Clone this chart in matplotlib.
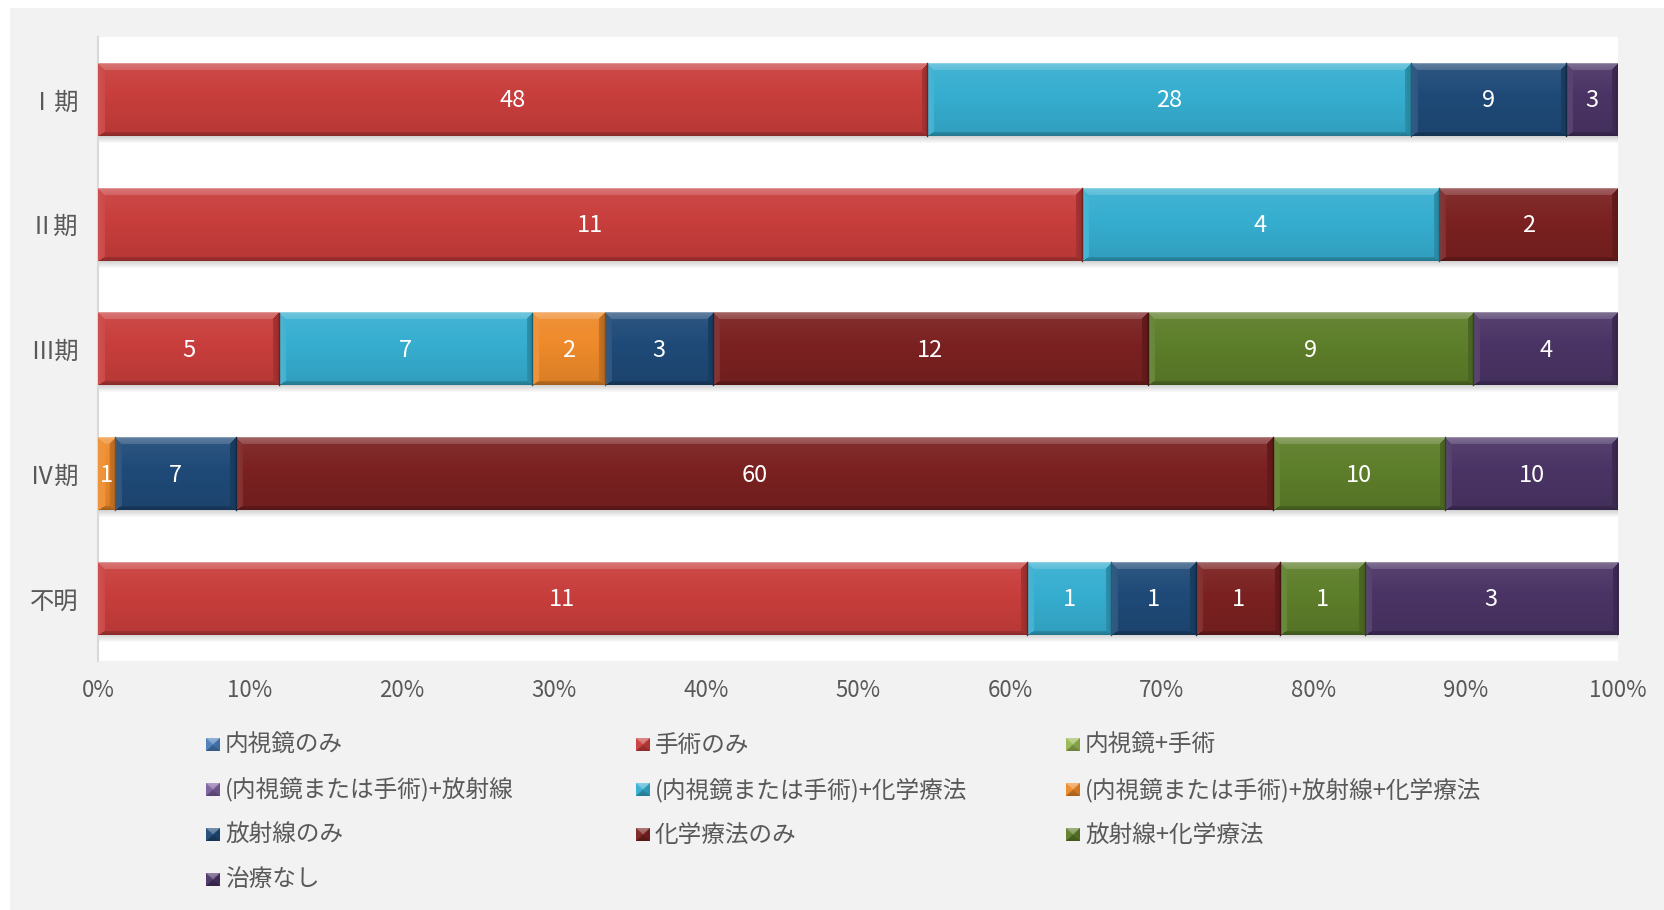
import numpy as np
import matplotlib
matplotlib.use("Agg")
import matplotlib.pyplot as plt
from matplotlib.colors import to_rgb

plt.rcParams['font.family'] = ['Noto Sans CJK JP', 'DejaVu Sans']

# ---- data -------------------------------------------------------------
stages = ['Ⅰ期', 'Ⅱ期', 'Ⅲ期', 'Ⅳ期', '不明']

treatments = [
    '内視鏡のみ', '手術のみ', '内視鏡+手術',
    '(内視鏡または手術)+放射線', '(内視鏡または手術)+化学療法',
    '(内視鏡または手術)+放射線+化学療法',
    '放射線のみ', '化学療法のみ', '放射線+化学療法', '治療なし',
]

endoscopy_only   = [0, 0, 0, 0, 0]
surgery_only     = [48, 11, 5, 0, 11]
endo_surgery     = [0, 0, 0, 0, 0]
local_rad        = [0, 0, 0, 0, 0]
local_chemo      = [28, 4, 7, 0, 1]
local_rad_chemo  = [0, 0, 2, 1, 0]
radiation_only   = [9, 0, 3, 7, 1]
chemo_only       = [0, 2, 12, 60, 1]
rad_chemo        = [0, 0, 9, 10, 1]
no_treatment     = [3, 0, 4, 10, 3]

series = [endoscopy_only, surgery_only, endo_surgery, local_rad, local_chemo,
          local_rad_chemo, radiation_only, chemo_only, rad_chemo, no_treatment]

colors = ['#4A7EBB', '#C83E3C', '#98B954', '#7D60A0', '#36AED0',
          '#EE8A2A', '#1F4A78', '#7B2121', '#5D7E2A', '#4A3465']

x_ticks = [0, 10, 20, 30, 40, 50, 60, 70, 80, 90, 100]

# ---- figure -----------------------------------------------------------
W, H, DPI = 1665, 910, 100
fig = plt.figure(figsize=(W / DPI, H / DPI), dpi=DPI, facecolor='white')

bg = fig.add_axes([0, 0, 1, 1], zorder=-1)
bg.set_xlim(0, W)
bg.set_ylim(H, 0)
bg.axis('off')
bg.add_patch(plt.Rectangle((10, 8), W - 10, H - 8, facecolor='#F2F2F2',
                           edgecolor='none', zorder=0))

ax_l, ax_t, ax_r, ax_b = 98, 37, 1618, 661
ax = fig.add_axes([ax_l / W, 1 - ax_b / H, (ax_r - ax_l) / W, (ax_b - ax_t) / H])
ax.set_facecolor('white')

n = len(stages)
ax.set_xlim(0, 100)
ax.set_ylim(n - 0.5, -0.5)
bar_h = 0.584

px_x = (ax_r - ax_l) / 100.0
px_y = (ax_b - ax_t) / n


def shade_rgb(base, s):
    base = np.asarray(base)[None, None, :]
    s = s[..., None]
    return np.where(s > 0, base + s * (1 - base), base * (1 + s))


def bevel_image(color, w_px, h_px, bt=7, bb=4, bl=7, br=6, pyramid=False):
    w = max(int(round(w_px)), 2)
    h = max(int(round(h_px)), 2)
    i = (np.arange(h)[:, None] + 0.5) * np.ones((1, w))
    j = (np.arange(w)[None, :] + 0.5) * np.ones((h, 1))
    dt, db, dl, dr = i, h - i, j, w - j
    widths = np.array([bt, bb, bl, br], dtype=float)
    if pyramid:
        widths = np.array([h / 2, h / 2, w / 2, w / 2])
    norm = np.stack([dt / widths[0], db / widths[1], dl / widths[2], dr / widths[3]])
    idx = np.argmin(norm, axis=0)
    dmin = np.min(norm, axis=0)
    t = i / h
    body = 0.07 - 0.16 * t
    edge_vals = np.array([0.30, -0.32, 0.10, -0.25])
    if pyramid:
        edge_vals = np.array([0.40, -0.30, 0.05, -0.15])
    edge = edge_vals[idx] * (1 - 0.35 * dmin)
    s = np.where(dmin < 1, edge, body)
    if not pyramid:
        # bright rim along the top
        s = np.where((dt < 1.5) & (idx == 0), 0.45, s)
    return shade_rgb(to_rgb(color), s)


totals = np.sum(np.array(series), axis=0)
left = np.zeros(n)

# soft shadow under each bar
for k in range(n):
    sh_h = 9
    a = np.linspace(0.35, 0.0, sh_h)
    img = np.zeros((sh_h, 4, 4))
    img[..., :3] = 0.45
    img[..., 3] = a[:, None]
    y0 = k + bar_h / 2 - 1 / px_y
    ax.imshow(img, extent=(0, 100.4, y0 + sh_h / px_y, y0), origin='upper',
              aspect='auto', interpolation='bilinear', zorder=1)

for s_idx, (vals, col) in enumerate(zip(series, colors)):
    vals = np.array(vals, dtype=float)
    pct = vals / totals * 100
    bars = ax.barh(range(n), pct, left=left, height=bar_h, color=col,
                   edgecolor='none', zorder=2, label=treatments[s_idx])
    for k, (b, v) in enumerate(zip(bars, vals)):
        if v <= 0:
            continue
        x0, w = b.get_x(), b.get_width()
        yc = k
        img = bevel_image(col, w * px_x, bar_h * px_y)
        ax.imshow(img, extent=(x0, x0 + w, yc + bar_h / 2, yc - bar_h / 2),
                  origin='upper', aspect='auto', interpolation='bilinear',
                  zorder=3)
        ax.plot([x0 + w, x0 + w], [yc - bar_h / 2, yc + bar_h / 2],
                color=tuple(c * 0.55 for c in to_rgb(col)), lw=1.0, zorder=4)
        ax.text(x0 + w / 2, yc + 0.01, f'{int(v)}', ha='center', va='center',
                color='white', fontsize=17, zorder=5)
    left += pct

ax.set_yticks(range(n))
ax.set_yticklabels(stages)
ax.set_xticks(x_ticks)
ax.set_xticklabels([f'{t}%' for t in x_ticks])
ax.tick_params(axis='both', length=0, colors='#595959')
ax.tick_params(axis='x', labelsize=16, pad=13)
ax.tick_params(axis='y', labelsize=17.5, pad=14)
for side in ('top', 'right', 'bottom'):
    ax.spines[side].set_visible(False)
ax.spines['left'].set_color('#D9D9D9')
ax.spines['left'].set_linewidth(1.5)

# ---- legend (row-major, three columns) --------------------------------
col_x = [206, 636, 1066]
row_y = [745, 790, 835, 880]
sw_w, sw_h = 14, 13
for idx, (label, col) in enumerate(zip(treatments, colors)):
    r, c = divmod(idx, 3)
    x, y = col_x[c], row_y[r]
    img = bevel_image(col, sw_w * 4, sw_h * 4, pyramid=True)
    bg.imshow(img, extent=(x, x + sw_w, y + sw_h / 2, y - sw_h / 2),
              origin='upper', aspect='auto', interpolation='bilinear', zorder=2)
    bg.text(x + 19, y, label, ha='left', va='center', fontsize=17,
            color='#595959', zorder=3)
bg.set_xlim(0, W)
bg.set_ylim(H, 0)

fig.savefig('out.png', dpi=DPI, facecolor=fig.get_facecolor())
